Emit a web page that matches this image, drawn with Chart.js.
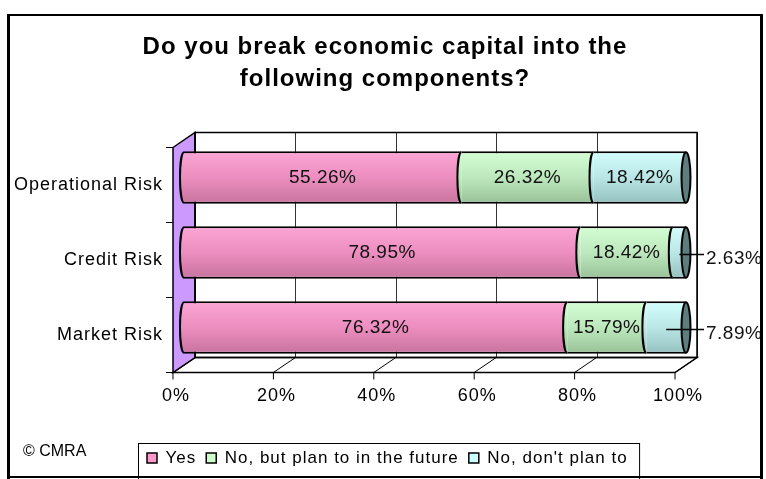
<!DOCTYPE html>
<html>
<head>
<meta charset="utf-8">
<script src="https://cdn.jsdelivr.net/npm/chart.js@4.4.0/dist/chart.umd.min.js"></script>
<style>
  html, body { margin: 0; padding: 0; background: #fff; }
  canvas { display: block; }
</style>
</head>
<body>
<canvas id="components-chart" width="766" height="479"></canvas>
<script>
const categories = ["Operational Risk", "Credit Risk", "Market Risk"];
const yesValues = [55.26, 78.95, 76.32];
const planValues = [26.32, 18.42, 15.79];
const noPlanValues = [18.42, 2.63, 7.89];
const percentTicks = [0, 20, 40, 60, 80, 100];
const seriesNames = ["Yes", "No, but plan to in the future", "No, don't plan to"];

const FONT = '"Liberation Sans", Arial, sans-serif';
const PLOT_BOTTOM = 365;
// half the depth of the 3-D box, bars sit in the middle plane
const DX = 11;
const DY = 7.5;
const BAR_SHARE = 0.7;

const pinkStops = ["#fca6d6", "#ec8ebf", "#c8739e"];
const greenStops = ["#d4ffd4", "#bde8bd", "#98c198"];
const cyanStops = ["#d4ffff", "#bbe6e6", "#94c0c0"];
const legendFills = ["#ff99cc", "#ccffcc", "#ccffff"];

function cylinderFill(stops) {
  return (context) => {
    const chart = context.chart;
    const yScale = chart.scales.y;
    if (context.type !== "data" || !yScale || !chart.chartArea) return stops[1];
    const yc = yScale.getPixelForValue(context.dataIndex);
    const half = (yScale.height / categories.length) * BAR_SHARE / 2;
    const g = chart.ctx.createLinearGradient(0, yc - half, 0, yc + half);
    g.addColorStop(0, stops[0]);
    g.addColorStop(0.5, stops[1]);
    g.addColorStop(1, stops[2]);
    return g;
  };
}

function line(ctx, x1, y1, x2, y2) {
  ctx.beginPath();
  ctx.moveTo(x1, y1);
  ctx.lineTo(x2, y2);
  ctx.stroke();
}

function poly(ctx, pts, fill) {
  ctx.beginPath();
  ctx.moveTo(pts[0][0], pts[0][1]);
  for (const p of pts.slice(1)) ctx.lineTo(p[0], p[1]);
  ctx.closePath();
  if (fill) {
    ctx.fillStyle = fill;
    ctx.fill();
  }
  ctx.stroke();
}

// walls and floor of the 3-D plot box, drawn from the x scale
const plotBox = {
  id: "plotBox",
  beforeUpdate(chart) {
    chart.ctx.letterSpacing = "1px";
  },
  beforeDatasetsDraw(chart) {
    const { ctx, chartArea: a, scales: { x } } = chart;
    const back = { l: a.left + DX, r: a.right + DX, t: a.top - DY, b: a.bottom - DY };
    const front = { l: a.left - DX, r: a.right - DX, t: a.top + DY, b: a.bottom + DY };
    ctx.save();
    ctx.strokeStyle = "#000";

    ctx.fillStyle = "#fff";
    ctx.fillRect(back.l, back.t, back.r - back.l, back.b - back.t);
    ctx.lineWidth = 1;
    ctx.strokeStyle = "#333";
    for (const v of percentTicks) {
      const px = Math.round(x.getPixelForValue(v) + DX) + 0.5;
      line(ctx, px, back.t, px, back.b);
    }

    ctx.strokeStyle = "#000";
    ctx.lineWidth = 1.5;
    poly(ctx, [[front.l, front.b], [front.r, front.b], [back.r, back.b], [back.l, back.b]], "#fff");
    ctx.lineWidth = 1;
    for (const v of percentTicks) {
      const px = x.getPixelForValue(v);
      line(ctx, px - DX, front.b, px + DX, back.b);
      line(ctx, px - DX, front.b, px - DX, front.b + 7);
    }

    ctx.lineWidth = 1.5;
    poly(ctx, [[front.l, front.t], [back.l, back.t], [back.l, back.b], [front.l, front.b]], "#cc99ff");
    ctx.strokeRect(back.l, back.t, back.r - back.l, back.b - back.t);

    ctx.lineWidth = 1;
    const band = (a.bottom - a.top) / categories.length;
    for (let i = 0; i <= categories.length; i++) {
      const py = a.top + i * band + DY;
      line(ctx, front.l - 7, py, front.l, py);
    }
    ctx.restore();
  },
  afterDatasetsDraw(chart) {
    const ctx = chart.ctx;
    const a = chart.chartArea;
    const last = chart.data.datasets.length - 1;
    ctx.save();
    ctx.strokeStyle = "#000";
    ctx.lineWidth = 2;
    chart.data.datasets.forEach((ds, di) => {
      const meta = chart.getDatasetMeta(di);
      meta.data.forEach((bar) => {
        const { x, y, base, height } = bar.getProps(["x", "y", "base", "height"], true);
        const ry = height / 2 - 1;
        // rounded left edge of each cylinder section
        ctx.beginPath();
        ctx.ellipse(base, y, 4, ry, 0, Math.PI / 2, Math.PI * 1.5);
        ctx.closePath();
        ctx.fillStyle = bar.options.backgroundColor;
        ctx.fill();
        ctx.beginPath();
        ctx.ellipse(base, y, 4, ry, 0, Math.PI / 2, Math.PI * 1.5);
        ctx.stroke();
        if (di === last) {
          ctx.beginPath();
          ctx.ellipse(x, y, 4.5, ry, 0, 0, Math.PI * 2);
          ctx.fillStyle = "#5e7e7e";
          ctx.fill();
          ctx.stroke();
        }
      });
    });

    ctx.letterSpacing = "0.5px";
    ctx.font = "19px " + FONT;
    ctx.fillStyle = "#111";
    ctx.textBaseline = "middle";
    ctx.lineWidth = 1.5;
    chart.data.datasets.forEach((ds, di) => {
      const meta = chart.getDatasetMeta(di);
      meta.data.forEach((bar, i) => {
        const v = ds.data[i];
        const text = v.toFixed(2) + "%";
        const { x, y, base } = bar.getProps(["x", "y", "base"], true);
        const cx = (x + base) / 2;
        if (v < 10) {
          const lx = a.right + 18;
          line(ctx, cx, y + 2, lx, y + 2);
          ctx.textAlign = "left";
          ctx.fillText(text, lx + 2, y + 6);
        } else {
          ctx.textAlign = "center";
          ctx.fillText(text, cx, y);
        }
      });
    });
    ctx.restore();
  },
  afterLayout(chart) {
    const legend = chart.legend;
    legend.left = 137;
    legend.right = 740;
    legend.top = 439.5;
    legend.bottom = 479;
  },
  afterDraw(chart) {
    const ctx = chart.ctx;
    const legend = chart.legend;
    ctx.save();
    ctx.strokeStyle = "#000";
    const boxes = legend.legendHitBoxes;
    const end = boxes[boxes.length - 1];
    ctx.lineWidth = 1;
    ctx.strokeRect(138.5, 443.5, end.left + end.width + 12 - 138.5, 40);

    ctx.letterSpacing = "0px";
    ctx.font = "16px " + FONT;
    ctx.fillStyle = "#000";
    ctx.textBaseline = "middle";
    ctx.textAlign = "left";
    ctx.fillText("\u00a9 CMRA", 23, 452);

    ctx.lineWidth = 3;
    line(ctx, 8.5, 15, 8.5, 479);
    line(ctx, 761.5, 15, 761.5, 479);
    ctx.lineWidth = 2;
    line(ctx, 7, 15, 763, 15);
    line(ctx, 7, 477, 763, 477);
    ctx.restore();
  },
};

const datasets = [
  { label: seriesNames[0], data: yesValues, backgroundColor: cylinderFill(pinkStops) },
  { label: seriesNames[1], data: planValues, backgroundColor: cylinderFill(greenStops) },
  { label: seriesNames[2], data: noPlanValues, backgroundColor: cylinderFill(cyanStops) },
].map((ds) => ({
  ...ds,
  borderColor: "#000",
  borderWidth: { top: 2, bottom: 2, left: 0, right: 0 },
  borderSkipped: false,
  barPercentage: BAR_SHARE,
  categoryPercentage: 1,
}));

Chart.defaults.font.family = FONT;
Chart.defaults.color = "#000";

new Chart(document.getElementById("components-chart"), {
  type: "bar",
  data: { labels: categories, datasets },
  options: {
    responsive: false,
    animation: false,
    indexAxis: "y",
    layout: { padding: { left: 4, right: 0, top: 0, bottom: 0 } },
    scales: {
      x: {
        stacked: true,
        min: 0,
        max: 100,
        afterBuildTicks: (scale) => {
          scale.ticks = percentTicks.map((v) => ({ value: v }));
        },
        ticks: {
          callback: (v) => v + "%",
          labelOffset: -8,
          padding: 20,
          font: { size: 18 },
          color: "#000",
        },
        grid: { display: false, drawTicks: false },
        border: { display: false },
        afterFit: (scale) => {
          scale.height = 479 - PLOT_BOTTOM - scale.chart.legend.height;
        },
      },
      y: {
        stacked: true,
        ticks: { padding: 21, labelOffset: DY, font: { size: 18 }, color: "#000" },
        grid: { display: false, drawTicks: false },
        border: { display: false },
        afterFit: (scale) => {
          scale.width = 180;
        },
      },
      // empty right-hand axis that keeps room for the outside value labels
      side: {
        type: "category",
        position: "right",
        ticks: { display: false },
        grid: { display: false, drawTicks: false },
        border: { display: false },
        afterFit: (scale) => {
          scale.width = 80;
        },
      },
    },
    plugins: {
      title: {
        display: true,
        text: ["Do you break economic capital into the", "following components?"],
        font: { size: 24, weight: "bold", lineHeight: 32 / 24 },
        color: "#000",
        padding: { top: 31, bottom: 45 },
      },
      legend: {
        position: "bottom",
        align: "start",
        labels: {
          boxWidth: 10,
          boxHeight: 10,
          padding: 10,
          color: "#000",
          font: { size: 17 },
          generateLabels: (chart) =>
            chart.data.datasets.map((ds, i) => ({
              text: ds.label,
              fillStyle: legendFills[i],
              strokeStyle: "#000",
              lineWidth: 1.5,
              datasetIndex: i,
              hidden: false,
            })),
        },
      },
      tooltip: { enabled: false },
    },
  },
  plugins: [plotBox],
});
</script>
</body>
</html>
